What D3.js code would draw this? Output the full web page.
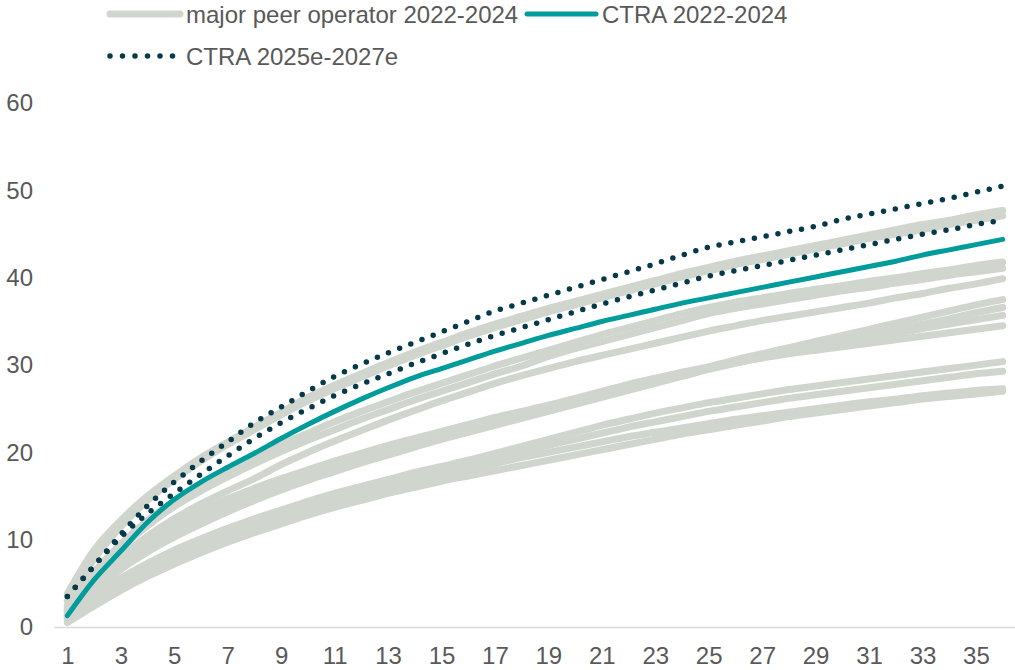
<!DOCTYPE html>
<html>
<head>
<meta charset="utf-8">
<script src="https://cdn.jsdelivr.net/npm/d3@7"></script>
<style>
  html, body { margin: 0; padding: 0; background: #ffffff; }
  svg { display: block; }
  text { font-family: "Liberation Sans", Arial, sans-serif; fill: #595959; }
</style>
</head>
<body>
<svg id="chart" width="1015" height="670"></svg>
<script>
// ---------- DATA ----------
const categories = d3.range(1, 37);            // months 1..36
const xTickLabels = [1,3,5,7,9,11,13,15,17,19,21,23,25,27,29,31,33,35];
const yTickLabels = [0,10,20,30,40,50,60];

const seriesNames = ["major peer operator 2022-2024", "CTRA 2022-2024", "CTRA 2025e-2027e"];

// major peer operators 2022-2024 (grey)
const peer1  = [3.8,8.8,12.2,15.0,17.3,19.4,21.2,22.9,24.6,26.3,27.7,29.0,30.3,31.5,32.6,33.7,34.7,35.6,36.5,37.3,38.1,38.9,39.7,40.5,41.2,41.9,42.5,43.1,43.7,44.3,44.9,45.5,46.1,46.6,47.2,47.7];
const peer2  = [3.0,7.8,11.5,14.5,16.9,19.0,20.9,22.6,24.3,25.9,27.3,28.6,29.9,31.1,32.2,33.3,34.3,35.2,36.1,36.9,37.7,38.5,39.3,40.1,40.8,41.5,42.1,42.7,43.3,43.9,44.5,45.0,45.5,46.1,46.6,47.1];
const peer3  = [2.5,6.3,9.5,12.2,14.4,16.3,17.9,19.4,20.9,22.2,23.5,24.7,25.8,26.9,27.9,28.9,29.9,30.8,31.7,32.6,33.5,34.3,35.1,35.9,36.6,37.2,37.7,38.2,38.7,39.1,39.6,40.0,40.5,40.9,41.4,41.8];
const peer4  = [2.2,5.9,9.0,11.6,13.8,15.6,17.2,18.7,20.1,21.4,22.6,23.8,24.9,26.0,27.0,28.0,29.0,29.9,31.0,31.9,32.7,33.5,34.3,35.1,35.9,36.5,37.0,37.5,38.0,38.5,38.9,39.4,39.8,40.3,40.7,41.1];
const peer5  = [1.8,5.2,8.0,10.4,12.4,14.1,15.6,17.0,18.6,20.0,21.3,22.5,23.7,24.8,25.9,26.9,27.9,28.8,29.6,30.4,31.1,31.8,32.5,33.2,33.9,34.5,35.1,35.6,36.1,36.6,37.1,37.7,38.2,38.8,39.3,39.9];
const peer6  = [1.5,4.5,7.0,9.0,10.7,12.2,13.6,14.9,16.1,17.2,18.2,19.1,20.0,20.9,21.8,22.6,23.4,24.2,25.0,25.8,26.6,27.4,28.2,29.0,29.8,30.6,31.3,32.0,32.7,33.4,34.1,34.8,35.5,36.2,36.9,37.5];
const peer7  = [1.3,4.2,6.6,8.6,10.3,11.8,13.2,14.5,15.7,16.8,17.8,18.8,19.7,20.6,21.5,22.3,23.1,23.9,24.7,25.5,26.3,27.1,27.9,28.7,29.5,30.2,30.9,31.6,32.3,32.9,33.5,34.1,34.7,35.3,36.0,36.6];
const peer8  = [1.8,5.0,7.6,9.7,11.4,12.9,14.2,15.4,16.5,17.5,18.5,19.4,20.3,21.2,22.0,22.8,23.6,24.4,25.1,25.9,26.7,27.5,28.3,29.0,29.7,30.3,30.9,31.5,32.1,32.6,33.1,33.6,34.2,34.7,35.2,35.7];
const peer9  = [2.0,5.4,8.1,10.2,11.9,13.4,14.7,15.9,17.0,18.0,19.0,19.9,20.8,21.6,22.4,23.2,24.0,24.7,25.4,26.2,27.0,27.8,28.5,29.2,29.8,30.3,30.8,31.3,31.7,32.1,32.5,32.9,33.3,33.7,34.1,34.5];
const peer10 = [1.2,3.6,5.6,7.3,8.8,10.1,11.3,12.4,13.4,14.4,15.3,16.1,16.9,17.7,18.4,19.1,19.9,20.7,21.5,22.3,23.1,23.8,24.5,25.1,25.7,26.2,26.7,27.2,27.6,28.0,28.4,28.8,29.2,29.6,30.0,30.4];
const peer11 = [1.0,3.2,5.1,6.8,8.3,9.6,10.8,11.9,12.9,13.9,14.8,15.6,16.4,17.2,17.9,18.6,19.4,20.1,20.8,21.5,22.2,22.9,23.5,24.1,24.7,25.2,25.7,26.2,26.6,27.0,27.4,27.8,28.2,28.6,29.0,29.3];
const peer12 = [0.8,2.8,4.6,6.2,7.7,9.0,10.2,11.3,12.3,13.3,14.2,15.0,15.8,16.6,17.3,18.0,18.7,19.4,20.0,20.6,21.2,21.8,22.3,22.8,23.3,23.8,24.2,24.6,25.0,25.4,25.8,26.1,26.5,26.8,27.1,27.3];
const peer13 = [0.5,2.4,4.2,5.8,7.2,8.5,9.7,10.8,11.8,12.8,13.7,14.5,15.3,16.0,16.7,17.3,17.9,18.5,19.1,19.7,20.3,20.9,21.5,22.1,22.6,23.1,23.6,24.1,24.5,24.9,25.3,25.7,26.1,26.4,26.7,27.0];

// CTRA 2022-2024 (teal)
const ctraActual = [1.3,5.4,8.7,12.0,14.6,16.6,18.3,19.9,21.6,23.2,24.7,26.1,27.4,28.6,29.6,30.6,31.6,32.5,33.4,34.2,35.0,35.7,36.4,37.1,37.7,38.3,38.9,39.5,40.1,40.7,41.3,41.9,42.6,43.2,43.8,44.4];

// CTRA 2025e-2027e (two dotted cases)
const ctraEstHigh = [3.5,7.0,10.6,13.9,16.6,19.0,21.2,23.4,25.2,27.0,28.7,30.1,31.4,32.6,33.8,35.0,36.2,37.1,38.0,38.9,39.8,40.7,41.6,42.6,43.5,44.1,44.7,45.3,45.9,46.7,47.3,47.9,48.5,49.1,49.8,50.5];
const ctraEstLow  = [3.5,7.0,10.3,13.0,15.3,17.5,19.6,21.6,23.4,25.0,26.5,27.8,29.0,30.2,31.3,32.4,33.4,34.3,35.2,36.1,37.0,37.8,38.6,39.4,40.2,40.8,41.4,42.0,42.6,43.2,43.8,44.4,45.0,45.5,46.1,46.6];

const peerSeries = [peer1,peer2,peer3,peer4,peer5,peer6,peer7,peer8,peer9,peer10,peer11,peer12,peer13];
const estSeries = [ctraEstHigh, ctraEstLow];

// ---------- STYLE ----------
const colPeer = "#D0D5CE";
const colTeal = "#009B9B";
const colDark = "#06394A";
const colText = "#595959";
const fontSize = 24;

const svg = d3.select("#chart");

const x = d3.scalePoint().domain(categories).range([54, 1016]).padding(0.5);
const y = d3.scaleLinear().domain([0, 60]).range([627, 103.2]);

const line = d3.line()
  .x((d, i) => x(categories[i]))
  .y(d => y(d))
  .curve(d3.curveMonotoneX);

// axes
const xAxis = svg.append("g")
  .attr("transform", `translate(0,${y(0)})`)
  .call(d3.axisBottom(x).tickValues(xTickLabels).tickSize(0).tickSizeOuter(0).tickPadding(20));
xAxis.select(".domain").attr("stroke", "#D9D9D9").attr("stroke-width", 1.5);
xAxis.selectAll("text").attr("font-size", fontSize).attr("fill", colText)
  .attr("font-family", "Liberation Sans, Arial, sans-serif");

const yAxis = svg.append("g")
  .attr("transform", `translate(33,0)`)
  .call(d3.axisLeft(y).tickValues(yTickLabels).tickSize(0).tickPadding(0));
yAxis.select(".domain").remove();
yAxis.selectAll("text").attr("font-size", fontSize).attr("fill", colText)
  .attr("font-family", "Liberation Sans, Arial, sans-serif");

// peer lines
svg.append("g").selectAll("path").data(peerSeries).join("path")
  .attr("d", line)
  .attr("fill", "none")
  .attr("stroke", colPeer)
  .attr("stroke-width", 7)
  .attr("stroke-linecap", "round")
  .attr("stroke-linejoin", "round");

// CTRA actual
svg.append("path").datum(ctraActual)
  .attr("d", line)
  .attr("fill", "none")
  .attr("stroke", colTeal)
  .attr("stroke-width", 5)
  .attr("stroke-linecap", "round");

// CTRA estimates (dotted)
svg.append("g").selectAll("path").data(estSeries).join("path")
  .attr("d", line)
  .attr("fill", "none")
  .attr("stroke", colDark)
  .attr("stroke-width", 5.5)
  .attr("stroke-linecap", "round")
  .attr("stroke-dasharray", "0 12");

// legend
const legend = svg.append("g");
legend.append("line").attr("x1", 110).attr("x2", 180).attr("y1", 14).attr("y2", 14)
  .attr("stroke", colPeer).attr("stroke-width", 7).attr("stroke-linecap", "round");
legend.append("text").attr("x", 186).attr("y", 23).attr("font-size", fontSize).text(seriesNames[0]);

legend.append("line").attr("x1", 527).attr("x2", 596).attr("y1", 14).attr("y2", 14)
  .attr("stroke", colTeal).attr("stroke-width", 5).attr("stroke-linecap", "round");
legend.append("text").attr("x", 602).attr("y", 23).attr("font-size", fontSize).text(seriesNames[1]);

legend.append("line").attr("x1", 110).attr("x2", 173).attr("y1", 56).attr("y2", 56)
  .attr("stroke", colDark).attr("stroke-width", 5.5).attr("stroke-linecap", "round")
  .attr("stroke-dasharray", "0 12.5");
legend.append("text").attr("x", 186).attr("y", 65).attr("font-size", fontSize).text(seriesNames[2]);
</script>
</body>
</html>
